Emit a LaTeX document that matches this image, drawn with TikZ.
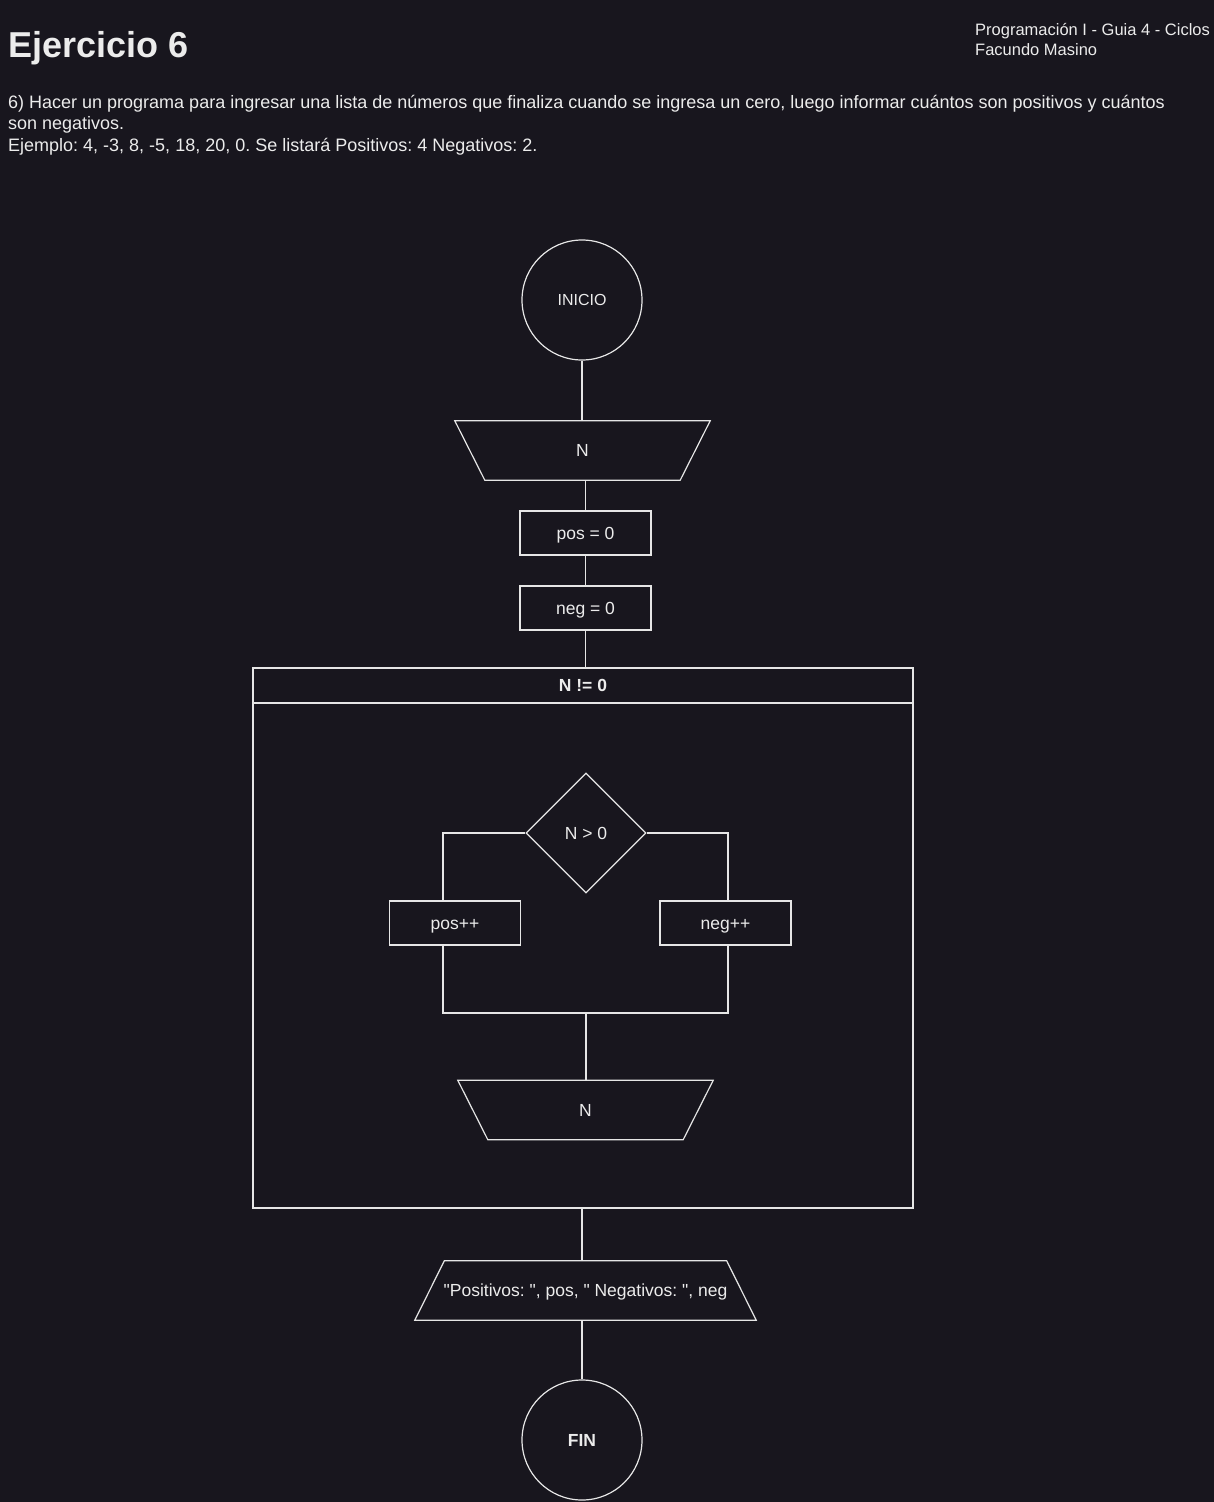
\documentclass[tikz,border=0pt]{standalone}
\usepackage{fontspec}
\setmainfont{Liberation Sans}
\newfontfamily\qfont{Liberation Sans}
\usetikzlibrary{shapes.geometric,calc}
\definecolor{bg}{RGB}{24,22,30}
\definecolor{fg}{RGB}{236,236,236}
\definecolor{ln}{RGB}{230,230,230}
\frenchspacing
\begin{document}
\begin{tikzpicture}[x=1pt,y=-1pt,
  every node/.style={text=fg,inner sep=0pt},
  lbl/.style={font=\fontsize{17.5}{21}\selectfont,text height=12.5pt,text depth=0pt},
  conn/.style={draw=ln,line width=1.2pt},
  stepbox/.style={draw=ln,line width=1.2pt,minimum width=131,minimum height=44,lbl},
  termc/.style={draw=ln,line width=1.2pt,circle,minimum size=120},
  io/.style={minimum height=59,lbl},
  txt/.style={anchor=base west,font=\fontsize{18}{21}\selectfont},
  hdr/.style={anchor=base west,font=\fontsize{16.5}{20}\selectfont}
]
\fill[bg] (0,0) rectangle (1214,1502);
\useasboundingbox (0,0) rectangle (1214,1502);

% header texts
\node[anchor=base west,font=\fontsize{36}{40}\selectfont\bfseries] (title) at (8,57) {Ejercicio 6};
\node[hdr] (h1) at (975,35) {Programación I - Guia 4 - Ciclos};
\node[hdr] (h2) at (975,55.5) {Facundo Masino};
\node[txt] (t1) at (8,108.5) {6) Hacer un programa para ingresar una lista de números que finaliza cuando se ingresa un cero, luego informar cuántos son positivos y cuántos};
\node[txt] (t2) at (8,129.8) {son negativos.};
\node[txt] (t3) at (8,151) {Ejemplo: 4, -3, 8, -5, 18, 20, 0. Se listará Positivos: 4 Negativos: 2.};

% flowchart
\node[termc,font=\fontsize{16}{19}\selectfont,text height=11.5pt,text depth=0pt] (inicio) at (582,300) {INICIO};
\node[io,minimum width=225] (inN) at (582.5,450.5) {N};
\draw[conn] ($(inN.north west)+(-15,0)$) -- ($(inN.north east)+(15,0)$) -- ($(inN.south east)+(-15,0)$) -- ($(inN.south west)+(15,0)$) -- cycle;
\node[stepbox] (pos0) at (585.5,533) {pos = 0};
\node[stepbox] (neg0) at (585.5,608) {neg = 0};

\node[draw=ln,line width=1.2pt,minimum width=660,minimum height=540] (loop) at (583,938) {};
\node[draw=ln,line width=1.2pt,minimum width=660,minimum height=35,lbl,font=\fontsize{17.5}{21}\selectfont\bfseries] (cond) at (583,685.5) {N != 0};

\node[draw=ln,line width=1.2pt,diamond,aspect=1,minimum width=120,minimum height=120,lbl] (dec) at (586,833) {N > 0};
\node[stepbox] (posinc) at (455,923) {pos++};
\node[stepbox] (neginc) at (725.5,923) {neg++};
\coordinate (joinL) at (443,1013);
\coordinate (joinR) at (728,1013);
\coordinate (join) at (586,1013);
\node[io,minimum width=225] (inN2) at (585.5,1110) {N};
\draw[conn] ($(inN2.north west)+(-15,0)$) -- ($(inN2.north east)+(15,0)$) -- ($(inN2.south east)+(-15,0)$) -- ($(inN2.south west)+(15,0)$) -- cycle;

\node[io,minimum width=311.5,font=\fontsize{17.5}{21}\qfont] (out) at (585.5,1290.5) {"Positivos: ", pos, " Negativos: ", neg};
\draw[conn] ($(out.north west)+(14.75,0)$) -- ($(out.north east)+(-14.75,0)$) -- ($(out.south east)+(14.75,0)$) -- ($(out.south west)+(-14.75,0)$) -- cycle;

\node[termc,lbl,font=\fontsize{17.5}{21}\selectfont\bfseries] (fin) at (582,1440) {FIN};

% connectors
\draw[conn] (inicio.south) -- (inicio.south |- inN.north);
\draw[conn] (pos0.north |- inN.south) -- (pos0.north);
\draw[conn] (pos0.south) -- (neg0.north);
\draw[conn] (neg0.south) -- (neg0.south |- loop.north);
\draw[conn] (dec.west) -| (joinL |- posinc.north);
\draw[conn] (dec.east) -| (joinR |- neginc.north);
\draw[conn] (joinL |- posinc.south) -- (joinL) -- (joinR) -- (joinR |- neginc.south);
\draw[conn] (join) -- (join |- inN2.north);
\draw[conn] (loop.south -| fin.north) -- (fin.north |- out.north);
\draw[conn] (fin.north |- out.south) -- (fin.north);
\end{tikzpicture}
\end{document}
